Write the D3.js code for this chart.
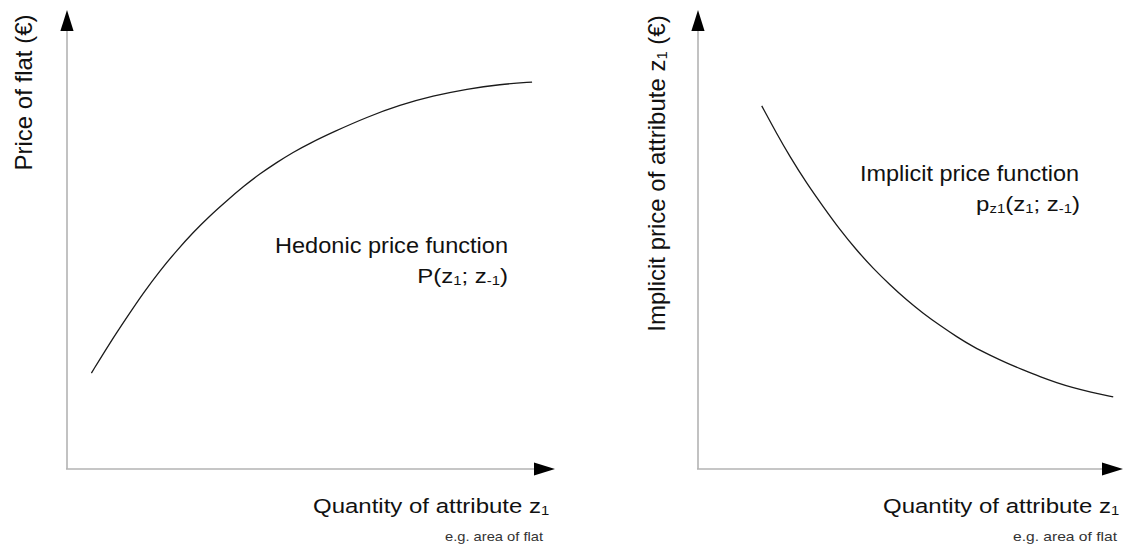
<!DOCTYPE html>
<html>
<head>
<meta charset="utf-8">
<script src="https://cdn.jsdelivr.net/npm/d3@7"></script>
<style>
  html, body { margin: 0; padding: 0; background: #fff; }
  svg { display: block; }
  text { font-family: "Liberation Sans", Arial, Helvetica, sans-serif; fill: #111; }
</style>
</head>
<body>
<svg id="chart" width="1125" height="546"></svg>
<script>
// ---- data (abstract units 0..100) ----
const hedonicX = [5, 8.8, 12.3, 15.6, 19.1, 22.5, 25.8, 29.3, 32.8, 36.1, 39.5, 43, 46.3, 49.8, 54.5, 61.5, 68.2, 75, 82, 88.7, 95.3];
const hedonicY = [20.9, 27.5, 33.1, 38.3, 43.3, 47.6, 51.5, 55.2, 58.5, 61.5, 64.3, 66.8, 69.0, 71, 73.4, 76.7, 79.3, 81.3, 82.8, 83.8, 84.3];
const implicitX = [15.0, 18.5, 21.6, 25.6, 29.5, 33.4, 37.3, 41.2, 45.2, 49.1, 53.0, 56.9, 60.9, 64.8, 68.7, 72.6, 76.5, 80.5, 84.4, 88.3, 92.2, 97.7];
const implicitY = [79.1, 73.1, 68.1, 62.2, 57.1, 52.1, 47.7, 43.7, 40.1, 36.8, 33.9, 31.3, 28.8, 26.6, 24.8, 23.1, 21.6, 20.1, 18.8, 17.7, 16.8, 15.7];

const leftYLabel = ["Price of flat (€)"];
const rightYLabel = ["Implicit price of attribute z", "1", " (€)"];
const xLabel = ["Quantity of attribute z", "1"];
const xNote = "e.g. area of flat";
const hedonicTitle = "Hedonic price function";
const hedonicFormula = [["P(z", false], ["1", true], ["; z", false], ["-1", true], [")", false]];
const implicitTitle = "Implicit price function";
const implicitFormula = [["p", false], ["z1", true], ["(z", false], ["1", true], ["; z", false], ["-1", true], [")", false]];

// ---- layout ----
const svg = d3.select("#chart");
const panels = [
  { x0: 67, x1: 555, y0: 469, y1: 10, xs: hedonicX, ys: hedonicY,
    yLab: { parts: [[leftYLabel[0], false]], bx: 32, cy: 92.5 },
    xLab: { x: 313, y: 513 }, note: { x: 445, y: 541, len: 98 },
    title: { text: hedonicTitle, right: 508, y: 253, len: 233 },
    formula: { parts: hedonicFormula, right: 508, y: 283, size: 24 } },
  { x0: 698, x1: 1123, y0: 469, y1: 10, xs: implicitX, ys: implicitY,
    yLab: { parts: [[rightYLabel[0], false], [rightYLabel[1], true], [rightYLabel[2], false]], bx: 665, cy: 173.5 },
    xLab: { x: 883, y: 513 }, note: { x: 1013, y: 541, len: 104 },
    title: { text: implicitTitle, right: 1079, y: 181, len: 219 },
    formula: { parts: implicitFormula, right: 1080, y: 211, size: 24 } }
];

const SQ = 0.88; // vertical squish of horizontal text

function addParts(textSel, parts, size) {
  let sub = false;
  parts.forEach(([t, isSub]) => {
    const ts = textSel.append("tspan").text(t);
    if (isSub && !sub) { ts.attr("font-size", size * 0.62).attr("dy", size * 0.1); sub = true; }
    else if (isSub && sub) { ts.attr("font-size", size * 0.62); }
    else if (!isSub && sub) { ts.attr("font-size", size).attr("dy", -size * 0.1); sub = false; }
  });
}

panels.forEach(p => {
  const x = d3.scaleLinear().domain([0, 100]).range([p.x0, p.x1]);
  const y = d3.scaleLinear().domain([0, 100]).range([p.y0, p.y1]);
  const g = svg.append("g");

  // axes lines (grey)
  const headLenY = 21, headLenX = 21, half = 6.6;
  g.append("line").attr("x1", x(0)).attr("x2", x(0)).attr("y1", y(0)).attr("y2", y(100) + headLenY)
    .attr("stroke", "#b3b3b3").attr("stroke-width", 1.6);
  g.append("line").attr("x1", x(0) - 1).attr("x2", x(100) - headLenX).attr("y1", y(0)).attr("y2", y(0))
    .attr("stroke", "#b3b3b3").attr("stroke-width", 1.6);
  // arrowheads
  g.append("path").attr("d", `M${x(0)},${y(100)} L${x(0) - half},${y(100) + headLenY} L${x(0) + half},${y(100) + headLenY} Z`).attr("fill", "#000");
  g.append("path").attr("d", `M${x(100)},${y(0)} L${x(100) - headLenX},${y(0) - half} L${x(100) - headLenX},${y(0) + half} Z`).attr("fill", "#000");

  // curve
  const pts = p.xs.map((v, i) => [v, p.ys[i]]);
  const line = d3.line().x(d => x(d[0])).y(d => y(d[1])).curve(d3.curveBasis);
  g.append("path").datum(pts).attr("d", line).attr("fill", "none").attr("stroke", "#1a1a1a").attr("stroke-width", 1.3);

  // rotated y label
  const yl = g.append("text")
    .attr("transform", `translate(${p.yLab.bx},${p.yLab.cy}) rotate(-90)`)
    .attr("text-anchor", "middle").attr("font-size", 24);
  addParts(yl, p.yLab.parts, 24);

  // x label
  const xl = g.append("g").attr("transform", `translate(${p.xLab.x},${p.xLab.y}) scale(1,${SQ})`)
    .append("text").attr("font-size", 24);
  addParts(xl, [[xLabel[0], false], [xLabel[1], true]], 24);

  // note
  g.append("g").attr("transform", `translate(${p.note.x},${p.note.y}) scale(1,${SQ})`)
    .append("text").attr("font-size", 14.5).style("fill", "#333")
    .attr("textLength", p.note.len).attr("lengthAdjust", "spacingAndGlyphs").text(xNote);

  // annotation title
  g.append("g").attr("transform", `translate(${p.title.right},${p.title.y}) scale(1,${SQ})`)
    .append("text").attr("font-size", 25).attr("text-anchor", "end")
    .attr("textLength", p.title.len).attr("lengthAdjust", "spacingAndGlyphs").text(p.title.text);

  // formula
  const fm = g.append("g").attr("transform", `translate(${p.formula.right},${p.formula.y}) scale(1,${SQ})`)
    .append("text").attr("font-size", p.formula.size).attr("text-anchor", "end");
  addParts(fm, p.formula.parts, p.formula.size);
});
</script>
</body>
</html>
